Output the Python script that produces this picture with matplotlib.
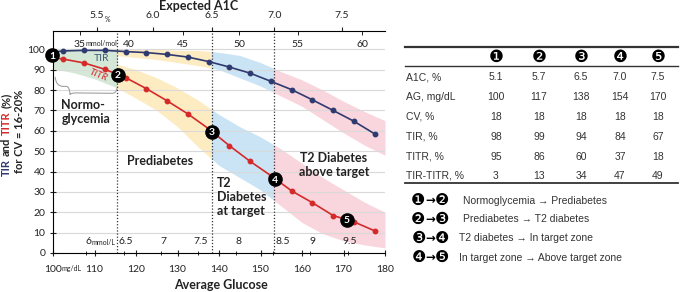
import numpy as np
import matplotlib.pyplot as plt
import matplotlib.transforms as mtransforms
from matplotlib.patches import Rectangle, PathPatch
from matplotlib.path import Path
from matplotlib.lines import Line2D

plt.rcParams['font.family'] = ['Lato', 'DejaVu Sans']

# ---------------- data ----------------
ag_pts = [100, 102.5, 107.5, 112.5, 117.5, 122.5, 127.5, 132.5, 137.5, 142.5,
          147.5, 152.5, 157.5, 162.5, 167.5, 172.5, 177.5]
tir = [98.6, 99.2, 99.5, 99.5, 98.9, 98.4, 97.5, 96.2, 94.0, 91.3,
       88.3, 84.3, 80.2, 75.2, 70.0, 64.7, 58.5]
titr = [96.0, 95.2, 93.3, 90.2, 86.1, 80.7, 74.7, 68.3, 61.0, 52.7,
        45.0, 38.0, 30.5, 24.7, 18.4, 15.3, 10.9]

# CV 16-20% bands
band_ag = [100, 105, 110, 115, 120, 125, 130, 135, 140, 145, 150, 155, 160, 165, 170, 175, 180]
tir_hi = [100.5, 100.5, 100.5, 100.5, 100, 100, 99.5, 99.5, 98.5, 97, 93.5, 89, 85, 80, 74.5, 69.5, 65]
tir_lo = [97, 97.5, 97.5, 97, 96, 95, 93.5, 92, 90, 86, 82, 77, 72, 65.5, 59, 53, 48]
titr_hi = [97.5, 95.5, 94, 93, 90, 86, 81, 75, 68, 62, 57, 51, 44, 37, 31, 25, 20]
titr_lo = [90.5, 88.5, 85.5, 81.5, 76, 70, 62, 52, 43, 37, 31, 23, 15, 9.5, 6, 4, 2.5]

zone_edges = [100, 115.5, 138.2, 153.3, 180]
zone_colors = ['#d5e8d7', '#fdecc2', '#cae4f5', '#f9d5dd']

marker_ag = [99.8, 115.6, 138.3, 153.4, 170.8]
marker_val = [97, 87.3, 59.5, 36.1, 16.2]

a1c = ['5.5', '6.0', '6.5', '7.0', '7.5']
a1c_ag = [110.6, 124.1, 138.2, 153.3, 169.6]
mmol_mol = ['35', '40', '45', '50', '55', '60']
mmol_mol_ag = [106.5, 118.3, 131.3, 144.8, 159.0, 174.5]
mmol_l = [6, 6.5, 7, 7.5, 8, 8.5, 9, 9.5]

tbl_rows = ['A1C, %', 'AG, mg/dL', 'CV, %', 'TIR, %', 'TITR, %', 'TIR-TITR, %']
tbl_vals = [['5.1', '5.7', '6.5', '7.0', '7.5'],
            ['100', '117', '138', '154', '170'],
            ['18', '18', '18', '18', '18'],
            ['98', '99', '94', '84', '67'],
            ['95', '86', '60', '37', '18'],
            ['3', '13', '34', '47', '49']]
circ = ['\u2776', '\u2777', '\u2778', '\u2779', '\u277a']
legend_txt = ['Normoglycemia \u2192 Prediabetes',
              'Prediabetes \u2192 T2 diabetes',
              'T2 diabetes \u2192 In target zone',
              'In target zone \u2192 Above target zone']

W, H = 680, 292
fig = plt.figure(figsize=(W / 100, H / 100), dpi=100)
ax = fig.add_axes([53 / W, 39 / H, 332 / W, 222 / H])
ax.set_xlim(100, 180)
ax.set_ylim(0, 109)

# bands, clipped to each zone
for i in range(4):
    x0, x1 = zone_edges[i], zone_edges[i + 1]
    c = zone_colors[i]
    if i == 0:
        polys = [ax.fill_between(band_ag, titr_lo, tir_hi, color=c, lw=0, zorder=0.2)]
    else:
        polys = [ax.fill_between(band_ag, tir_lo, tir_hi, color=c, lw=0, zorder=0.2),
                 ax.fill_between(band_ag, titr_lo, titr_hi, color=c, lw=0, zorder=0.2)]
    for p in polys:
        p.set_clip_path(Rectangle((x0, 0), x1 - x0, 109, transform=ax.transData))

ax.set_axisbelow(True)
ax.yaxis.grid(True, color='#d9d9d9', lw=0.8)

for xv in zone_edges[1:4]:
    ax.axvline(xv, color='#333333', lw=0.9, ls=(0, (1, 1.5)), zorder=2)

ax.plot(ag_pts, tir, '-o', color='#2f3a70', lw=1.2, ms=3.2, zorder=3)
ax.plot(ag_pts, titr, '-o', color='#d42a2a', lw=1.2, ms=3.2, zorder=3)

ax.plot(marker_ag, marker_val, 'o', ms=9.5, color='black', zorder=5, clip_on=False)
for i, (x, y) in enumerate(zip(marker_ag, marker_val)):
    ax.text(x, y - 0.3, str(i + 1), color='white', fontsize=7.5, fontweight='bold',
            ha='center', va='center', zorder=6, clip_on=False)

# axes styling
for s in ['right', 'top']:
    ax.spines[s].set_visible(False)
ax.set_yticks(range(0, 101, 10))
ax.set_xticks(range(100, 181, 10))
ax.set_xticks([v * 18 for v in mmol_l], minor=True)
ax.tick_params(axis='both', which='major', direction='inout', length=5, labelsize=7.5,
               colors='#222222')
ax.tick_params(axis='x', which='major', pad=6)
ax.tick_params(axis='x', which='minor', direction='inout', length=3)
ax.tick_params(axis='y', pad=3)

ax2 = ax.twiny()
ax2.set_xlim(100, 180)
for s in ['right', 'left', 'bottom']:
    ax2.spines[s].set_visible(False)
ax2.set_xticks(a1c_ag)
ax2.set_xticklabels(a1c)
ax2.set_xticks(mmol_mol_ag, minor=True)
ax2.tick_params(axis='x', which='major', direction='out', length=3, labelsize=7.5, pad=5,
                colors='#222222')
ax2.tick_params(axis='x', which='minor', direction='in', length=3)

# small unit labels
for lab, x in zip(mmol_mol, mmol_mol_ag):
    ax.text(x, 102.3, lab, fontsize=7.5, ha='center', va='center', color='#222222')
ax.text(111.6, 103.0, 'mmol/mol', fontsize=5, ha='center', va='center', color='#222222')
for v in mmol_l:
    dx = 2.3 if v == 8.5 else 0.6
    lab = str(int(v)) if v == int(v) else str(v)
    ax.text(v * 18 + dx, 5.5, lab, fontsize=7.5, ha='center', va='center', color='#222222')
ax.text(112.2, 5.2, 'mmol/L', fontsize=5, ha='center', va='center', color='#222222')
ax.text(104.5, -7.4, 'mg/dL', fontsize=5, ha='center', va='center', color='#222222',
        clip_on=False)
trans = mtransforms.blended_transform_factory(ax.transData, fig.transFigure)
fig.text(113.2, 1 - 19 / H, '%', transform=trans, fontsize=5, ha='center', va='center',
         color='#222222')

# zone labels
ax.text(111.7, 95.6, 'TIR', fontsize=7.5, color='#3d5a74', ha='center', va='center')
ax.text(110.8, 87.4, 'TITR', fontsize=7, color='#d42a2a', style='italic', rotation=-22,
        ha='center', va='center')
ax.text(102.0, 69.0, 'Normo-\nglycemia', fontsize=9, fontweight='bold', color='#222222',
        ha='left', va='center', linespacing=1.2)
ax.text(117.8, 45.2, 'Prediabetes', fontsize=9, fontweight='bold', color='#222222',
        ha='left', va='center')
ax.text(139.6, 27.4, 'T2\nDiabetes\nat target', fontsize=9, fontweight='bold',
        color='#222222', ha='left', va='center', linespacing=1.2)
ax.text(167.7, 43.0, 'T2 Diabetes\nabove target', fontsize=9, fontweight='bold',
        color='#222222', ha='center', va='center', linespacing=1.2)

# brace under normoglycemia
verts = [(100.5, 86.5), (100.7, 81.8), (102.5, 81.8), (103.2, 81.8),
         (104.0, 81.8), (104.1, 77.8), (104.3, 78.6), (105.5, 78.6),
         (114.2, 78.4), (115.3, 78.4), (115.4, 81.0)]
codes = [Path.MOVETO, Path.CURVE3, Path.CURVE3, Path.LINETO,
         Path.CURVE3, Path.CURVE3, Path.CURVE3, Path.CURVE3,
         Path.LINETO, Path.CURVE3, Path.CURVE3]
ax.add_patch(PathPatch(Path(verts, codes), fc='none', ec='#a0a0a0', lw=0.8, zorder=2))

# axis titles
fig.text(221 / W, 1 - 285 / H, 'Average Glucose', fontsize=9, fontweight='bold',
         ha='center', va='center', color='#222222')
fig.text(199 / W, 1 - 6 / H, 'Expected A1C', fontsize=9, fontweight='bold',
         ha='center', va='center', color='#222222')

t = fig.text(6 / W, 1 - 176 / H, 'TIR', fontsize=8, fontweight='bold', color='#2f3a70',
             rotation=90, ha='center', va='bottom')
for piece, col in [('and', '#222222'), ('TITR', '#d42a2a'), ('(%)', '#222222')]:
    t = ax.annotate(piece, xy=(0.5, 1), xycoords=t, xytext=(0, 2.2), textcoords='offset points',
                    fontsize=8, fontweight='bold', color=col, rotation=90,
                    ha='center', va='bottom', annotation_clip=False)
fig.text(20 / W, 1 - 131 / H, 'for CV = 16-20%', fontsize=8, fontweight='bold',
         color='#222222', rotation=90, ha='center', va='center')

# ---------------- table on the right ----------------
tfont = ['Liberation Sans', 'DejaVu Sans']
for yy, lw in [(47.3, 1.6), (66, 1.0), (183.3, 1.3)]:
    fig.add_artist(Line2D([405 / W, 678 / W], [1 - yy / H] * 2, lw=lw, color='#333333'))

col_x = [496, 539, 581, 620, 658]
row_y = [77.3, 97.0, 116.7, 136.5, 156.5, 176.0]
for cx, g in zip(col_x, circ):
    fig.text(cx / W, 1 - 57.0 / H, g, fontsize=12, family=['DejaVu Sans'],
             ha='center', va='center', color='black')
for ry, name, vals in zip(row_y, tbl_rows, tbl_vals):
    fig.text(406 / W, 1 - ry / H, name, fontsize=7.5, family=tfont, ha='left', va='center',
             color='#333333')
    for cx, v in zip(col_x, vals):
        fig.text(cx / W, 1 - ry / H, v, fontsize=7.5, family=tfont, ha='center',
                 va='center', color='#333333')

leg_y = [200.7, 219.3, 238.3, 257.7]
for i, (ly, txt) in enumerate(zip(leg_y, legend_txt)):
    fig.text(418.5 / W, 1 - ly / H, circ[i], fontsize=11.5, family=['DejaVu Sans'],
             ha='center', va='center', color='black')
    fig.text(430.5 / W, 1 - ly / H, '\u2192', fontsize=8.5, fontweight='bold',
             family=['DejaVu Sans'], ha='center', va='center', color='black')
    fig.text(442 / W, 1 - ly / H, circ[i + 1], fontsize=11.5, family=['DejaVu Sans'],
             ha='center', va='center', color='black')
    tx = 463 if i < 2 else 459
    fig.text(tx / W, 1 - ly / H, txt, fontsize=7.5, family=tfont, ha='left', va='center',
             color='#333333')

fig.savefig('out.png', dpi=100)
